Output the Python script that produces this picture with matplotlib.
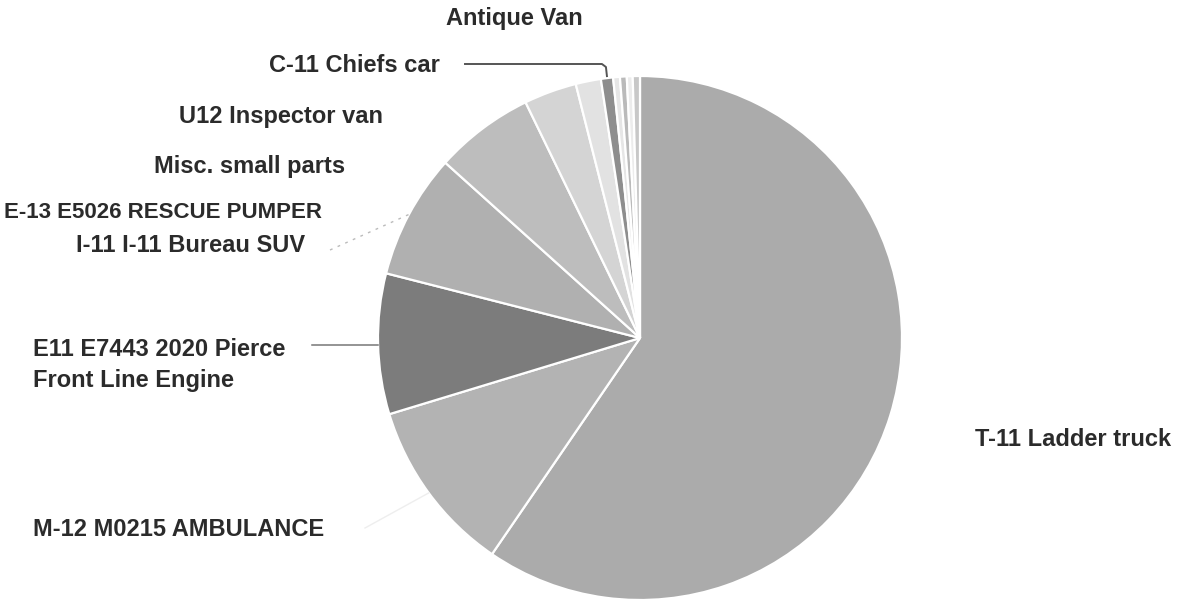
import numpy as np
import matplotlib.pyplot as plt

# ── Data (slice sizes, in degrees of arc) ────────────────────────────────────
labels = ["T-11 Ladder truck", "M-12 M0215 AMBULANCE",
          "E11 E7443 2020 Pierce\nFront Line Engine", "I-11 I-11 Bureau SUV",
          "E-13 E5026 RESCUE PUMPER", "Misc. small parts", "U12 Inspector van",
          "C-11 Chiefs car", "Antique Van", "", "", ""]
values = [214.4, 38.7, 31.2, 27.7, 22.1, 11.7, 5.6, 2.7, 1.5, 1.5, 1.3, 1.6]
shades = ["#ababab", "#b3b3b3", "#7c7c7c", "#b0b0b0", "#bdbdbd", "#d4d4d4",
          "#e2e2e2", "#8e8e8e", "#e6e6e6", "#bababa", "#ececec", "#c8c8c8"]

W, H = 1187, 604
CX, CY, R = 640, H - 338, 262

# label anchor (x, y in image pixels), alignment, size
label_pos = {
    0: (975, 440, "left", 17),
    1: (33, 530, "left", 17),
    2: (33, 365, "left", 17),
    3: (305, 245, "right", 17),
    4: (322, 213, "right", 16),
    5: (345, 167, "right", 17),
    6: (383, 116, "right", 17),
    7: (440, 65, "right", 17),
    8: (583, 18, "right", 17),
}

plt.rcParams["font.family"] = ["Liberation Sans", "DejaVu Sans"]

fig = plt.figure(figsize=(W / 100, H / 100), dpi=100)
ax = fig.add_axes([0, 0, 1, 1])
wedges, _ = ax.pie(values, colors=shades, startangle=90, counterclock=False,
                   center=(CX, CY), radius=R,
                   wedgeprops=dict(edgecolor="white", linewidth=1.6))
ax.set_xlim(0, W)
ax.set_ylim(0, H)
ax.set_aspect("equal")
ax.axis("off")

for i, (x, y, ha, fs) in label_pos.items():
    ax.text(x, H - y, labels[i], ha=ha, va="center", fontsize=fs,
            fontweight="bold", color="#2b2b2b", linespacing=1.5)


def edge_point(i):
    w = wedges[i]
    a = np.deg2rad((w.theta1 + w.theta2) / 2)
    return CX + R * np.cos(a), CY + R * np.sin(a)


# leader lines
px, py = edge_point(7)
ax.plot([465, px - 5, px - 1, px], [H - 64, H - 64, H - 67, py + 2],
        color="#555555", lw=1.4)
px, py = edge_point(2)
ax.plot([312, px], [H - 345, H - 345], color="#777777", lw=1.1)
px, py = edge_point(3)
ax.plot([330, px], [H - 250, py], color="#bbbbbb", lw=1.0, ls=(0, (2, 4)))
px, py = edge_point(1)
ax.plot([365, px], [H - 528, py], color="#eeeeee", lw=1.0)

fig.savefig("out.png", dpi=100, facecolor="white")
